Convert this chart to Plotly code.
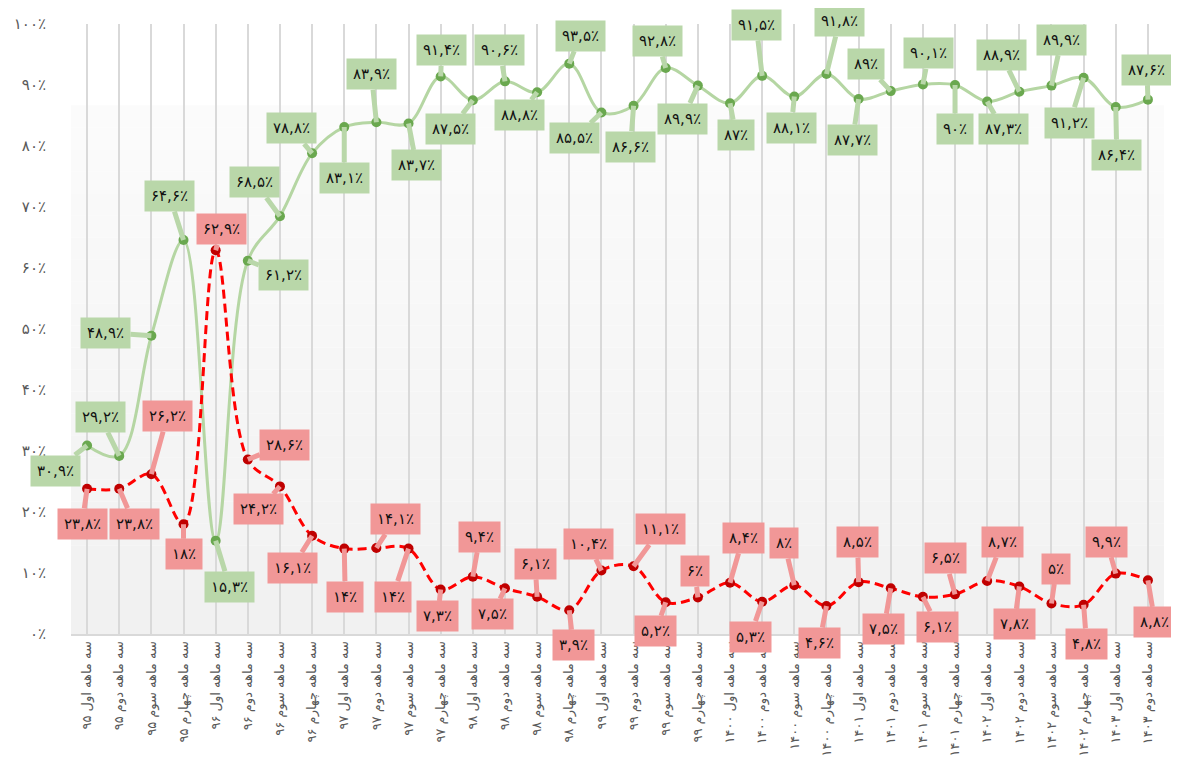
import plotly.graph_objects as go

# ---------------- data ----------------
categories = [
    "سه ماهه اول ۹۵", "سه ماهه دوم ۹۵", "سه ماهه سوم ۹۵", "سه ماهه چهارم ۹۵",
    "سه ماهه اول ۹۶", "سه ماهه دوم ۹۶", "سه ماهه سوم ۹۶", "سه ماهه چهارم ۹۶",
    "سه ماهه اول ۹۷", "سه ماهه دوم ۹۷", "سه ماهه سوم ۹۷", "سه ماهه چهارم ۹۷",
    "سه ماهه اول ۹۸", "سه ماهه دوم ۹۸", "سه ماهه سوم ۹۸", "سه ماهه چهارم ۹۸",
    "سه ماهه اول ۹۹", "سه ماهه دوم ۹۹", "سه ماهه سوم ۹۹", "سه ماهه چهارم ۹۹",
    "سه ماهه اول ۱۴۰۰", "سه ماهه دوم ۱۴۰۰", "سه ماهه سوم ۱۴۰۰", "سه ماهه چهارم ۱۴۰۰",
    "سه ماهه اول ۱۴۰۱", "سه ماهه دوم ۱۴۰۱", "سه ماهه سوم ۱۴۰۱", "سه ماهه چهارم ۱۴۰۱",
    "سه ماهه اول ۱۴۰۲", "سه ماهه دوم ۱۴۰۲", "سه ماهه سوم ۱۴۰۲", "سه ماهه چهارم ۱۴۰۲",
    "سه ماهه اول ۱۴۰۳", "سه ماهه دوم ۱۴۰۳",
]

green_values = [30.9, 29.2, 48.9, 64.6, 15.3, 61.2, 68.5, 78.8, 83.1, 83.9,
                83.7, 91.4, 87.5, 90.6, 88.8, 93.5, 85.5, 86.6, 92.8, 89.9,
                87, 91.5, 88.1, 91.8, 87.7, 89, 90.1, 90, 87.3, 88.9,
                89.9, 91.2, 86.4, 87.6]

red_values = [23.8, 23.8, 26.2, 18, 62.9, 28.6, 24.2, 16.1, 14, 14.1,
              14, 7.3, 9.4, 7.5, 6.1, 3.9, 10.4, 11.1, 5.2, 6,
              8.4, 5.3, 8, 4.6, 8.5, 7.5, 6.1, 6.5, 8.7, 7.8,
              5, 4.8, 9.9, 8.8]

y_ticks = [0, 10, 20, 30, 40, 50, 60, 70, 80, 90, 100]

# ---------------- label placement (pixel offsets of callouts) ----------------
green_offsets = [(-32, 25), (-19, -39), (-46, -3), (-14, -44), (14, 46), (36, 14),
                 (-25, -34), (-21, -25), (0, 51), (-5, -48), (8, 42), (1, -26),
                 (-22, 29), (-5, -31), (-18, 23), (11, -28), (-27, 26), (-3, 41),
                 (-8, -27), (-15, 33), (6, 32), (-6, -51), (-3, 31), (13, -53),
                 (-6, 41), (-25, -27), (6, -31), (0, 44), (16, 28), (-18, -37),
                 (10, -46), (-14, 45), (1, 48), (-1, -30)]

red_offsets = [(-5, 35), (15, 35), (16, -58), (0, 30), (6, -21), (37, -15),
               (-21, 23), (-20, 32), (1, 48), (19, -29), (-16, 48), (-3, 27),
               (7, -40), (-12, 26), (-2, -33), (4, 35), (-13, -27), (27, -37),
               (-10, 29), (-3, -26), (13, -45), (-12, 35), (-10, -42), (-7, 37),
               (-1, -40), (-7, 41), (15, 30), (-10, -36), (15, -39), (-5, 38),
               (5, -35), (3, 39), (-9, -32), (7, 42)]

# ---------------- helpers ----------------
_fa = str.maketrans("0123456789.", "۰۱۲۳۴۵۶۷۸۹,")


def fa_pct(v):
    s = f"{v:g}" if float(v).is_integer() else f"{v:.1f}"
    return s.translate(_fa) + "٪"


GREEN_LINE = "#b5d6a3"
GREEN_MARK = "#6aa84f"
GREEN_BOX = "#b9d7a9"
RED_LINE = "#ff0000"
RED_MARK = "#c00000"
RED_BOX = "#f19797"
FONT = "DejaVu Sans"

x_idx = list(range(len(categories)))

fig = go.Figure()

fig.add_trace(go.Scatter(
    x=x_idx, y=green_values, mode="lines+markers",
    line=dict(color=GREEN_LINE, width=3, shape="spline", smoothing=1.0),
    marker=dict(color=GREEN_MARK, size=10),
    hoverinfo="skip", showlegend=False,
))
fig.add_trace(go.Scatter(
    x=x_idx, y=red_values, mode="lines+markers",
    line=dict(color=RED_LINE, width=3, dash="9px,5px", shape="spline", smoothing=1.0),
    marker=dict(color=RED_MARK, size=10),
    hoverinfo="skip", showlegend=False,
))

annotations = []
for vals, offs, box in ((green_values, green_offsets, GREEN_BOX),
                        (red_values, red_offsets, RED_BOX)):
    for i, (v, (ax, ay)) in enumerate(zip(vals, offs)):
        annotations.append(dict(
            x=i, y=v, xref="x", yref="y",
            text=fa_pct(v), showarrow=True,
            ax=ax, ay=ay, axref="pixel", ayref="pixel",
            arrowhead=0, arrowwidth=5, arrowcolor=box, standoff=0,
            bgcolor=box, borderpad=6,
            font=dict(family=FONT, size=15, color="#111111"),
        ))

# soft vertical gradient in the plotting panel
shapes = []
n_bands = 24
top = 86.7
for k in range(n_bands):
    y0 = top * k / n_bands
    y1 = top * (k + 1) / n_bands
    t = k / (n_bands - 1)
    g = int(round(241 + (251 - 241) * t))
    shapes.append(dict(type="rect", xref="paper", yref="y", x0=0, x1=1,
                       y0=y0, y1=y1, layer="below", line=dict(width=0),
                       fillcolor=f"rgb({g},{g},{g})"))

# page body has an 8px margin, so the figure is sized to fit the window
fig.update_layout(
    width=1171, height=750,
    margin=dict(l=63, r=15, t=16, b=124, autoexpand=False),
    paper_bgcolor="white", plot_bgcolor="white",
    font=dict(family=FONT, color="#595959"),
    annotations=annotations, shapes=shapes,
    xaxis=dict(
        range=[-0.5, len(categories) - 0.5],
        tickvals=x_idx, ticktext=categories, tickangle=-90,
        tickfont=dict(size=13, color="#595959", family=FONT),
        showgrid=True, gridcolor="#d9d9d9", gridwidth=2,
        showline=True, linecolor="#d9d9d9", linewidth=2,
        zeroline=False, ticks="", automargin=False,
    ),
    yaxis=dict(
        range=[0, 100], tickvals=y_ticks,
        ticktext=[fa_pct(v) for v in y_ticks],
        tickfont=dict(size=15, color="#595959", family=FONT),
        showgrid=False, zeroline=False, showline=False,
        ticklabelstandoff=24, automargin=False,
    ),
)

fig.write_html("out.html")
